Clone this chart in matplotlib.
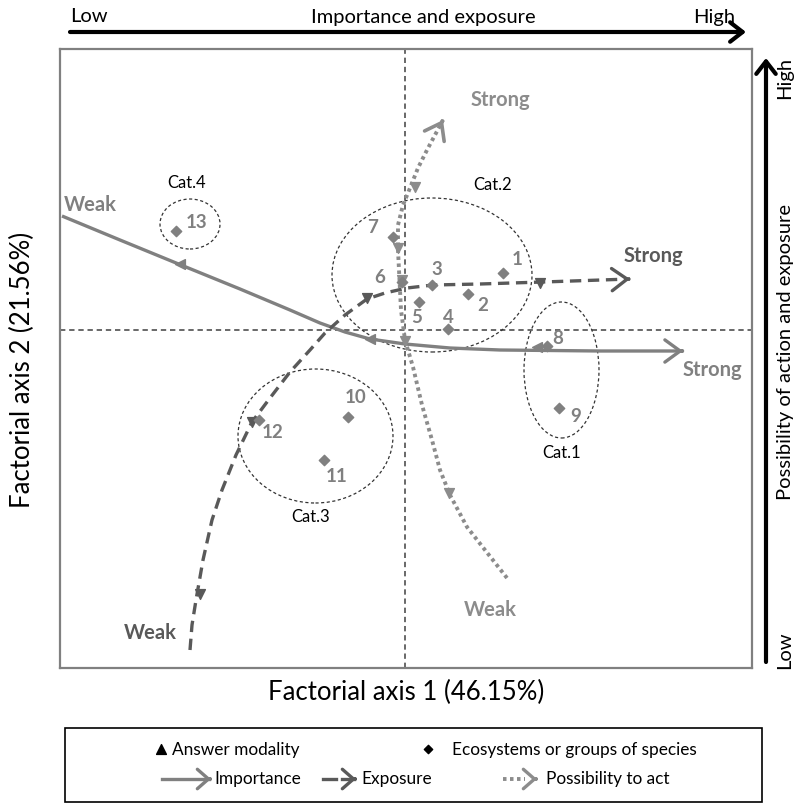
import matplotlib
matplotlib.use('Agg')
import matplotlib.pyplot as plt
from matplotlib.patches import Ellipse, Rectangle
import numpy as np

plt.rcParams['font.family'] = ['Lato', 'DejaVu Sans']

# ---------------- data (factorial plane coordinates) ----------------
point_ids = ['1', '2', '3', '4', '5', '6', '7', '8', '9', '10', '11', '12', '13']
point_x = [0.98, 0.63, 0.27, 0.43, 0.14, -0.03, -0.12, 1.42, 1.54, -0.57, -0.81, -1.46, -2.29]
point_y = [0.57, 0.36, 0.45, 0.01, 0.28, 0.48, 0.93, -0.16, -0.78, -0.87, -1.30, -0.90, 0.99]

importance_x = [-3.43, -2.85, -2.24, -1.65, -1.15, -0.85, -0.60, -0.35, 0.00, 0.45, 0.95, 1.95, 2.78]
importance_y = [1.14, 0.90, 0.65, 0.41, 0.20, 0.07, -0.02, -0.09, -0.14, -0.18, -0.20, -0.21, -0.21]

exposure_x = [-2.15, -2.13, -2.09, -2.02, -1.93, -1.83, -1.69, -1.53, -1.35, -1.15, -0.95, -0.80,
              -0.60, -0.38, -0.20, 0.02, 0.28, 0.75, 1.38, 2.25]
exposure_y = [-3.20, -2.95, -2.70, -2.30, -1.90, -1.60, -1.25, -0.92, -0.68, -0.42, -0.20, -0.03,
              0.15, 0.31, 0.37, 0.42, 0.45, 0.46, 0.48, 0.51]

possibility_x = [1.02, 0.80, 0.62, 0.45, 0.35, 0.27, 0.17, 0.08, 0.00, -0.04, -0.05, -0.07, -0.07,
                 -0.02, 0.05, 0.13, 0.22, 0.30, 0.38]
possibility_y = [-2.48, -2.20, -1.97, -1.65, -1.40, -1.10, -0.75, -0.37, -0.10, 0.20, 0.40, 0.80, 1.05,
                 1.25, 1.42, 1.62, 1.80, 1.95, 2.10]

# answer modalities (triangles) along each variable
imp_mod_x = [-2.25, -0.35, 1.32]
imp_mod_y = [0.66, -0.09, -0.17]
exp_mod_x = [-2.05, -1.53, -0.38, 1.35]
exp_mod_y = [-2.64, -0.92, 0.32, 0.47]
pos_mod_x = [0.10, -0.07, -0.03, 0.00, 0.44]
pos_mod_y = [1.43, 0.82, 0.50, -0.11, -1.63]

# categories (ellipses)
cat_names = ['Cat.1', 'Cat.2', 'Cat.3', 'Cat.4']
cat_cx = [1.565, 0.27, -0.895, -2.15]
cat_cy = [-0.40, 0.55, -1.06, 1.06]
cat_w = [0.75, 2.00, 1.55, 0.60]
cat_h = [1.36, 1.54, 1.34, 0.50]
cat_label_x = [1.57, 0.88, -0.94, -2.18]
cat_label_y = [-1.23, 1.45, -1.87, 1.47]

axis1_label = 'Factorial axis 1 (46.15%)'
axis2_label = 'Factorial axis 2 (21.56%)'

# ---------------- layout / style ----------------
W, H = 795, 805
fig = plt.figure(figsize=(W / 100, H / 100), dpi=100)

def fr(x0, y0, x1, y1):
    return [x0 / W, 1 - y1 / H, (x1 - x0) / W, (y1 - y0) / H]

ax = fig.add_axes(fr(60, 49, 752, 668))
ax.set_xlim(-3.45, 3.47)
ax.set_ylim(-3.38, 2.81)
ax.set_xticks([])
ax.set_yticks([])
for s in ax.spines.values():
    s.set_color('#808080')
    s.set_linewidth(1.6)

C_IMP = '#808080'
C_EXP = '#595959'
C_POS = '#8c8c8c'
C_PT = '#808080'

ax.axvline(0, color='#404040', lw=1.1, ls=(0, (3.5, 2.5)), zorder=1)
ax.axhline(0, color='#404040', lw=1.1, ls=(0, (3.5, 2.5)), zorder=1)

# ellipses
for cx, cy, w, h, name, lx, ly in zip(cat_cx, cat_cy, cat_w, cat_h, cat_names, cat_label_x, cat_label_y):
    ax.add_patch(Ellipse((cx, cy), w, h, fill=False, ec='#333333', lw=0.9, ls=(0, (2.5, 2)), zorder=2))
    ax.text(lx, ly, name, ha='center', va='center', fontsize=12, color='black')

def curve(xs, ys, color, lw, ls, head_lw):
    ax.plot(xs, ys, color=color, lw=lw, ls=ls, solid_capstyle='butt', dash_capstyle='butt',
            solid_joinstyle='round', zorder=3)
    x1, y1 = xs[-1], ys[-1]
    dx, dy = xs[-1] - xs[-2], ys[-1] - ys[-2]
    n = np.hypot(dx, dy)
    ax.annotate('', xy=(x1, y1), xytext=(x1 - 0.01 * dx / n, y1 - 0.01 * dy / n),
                arrowprops=dict(arrowstyle='->,head_length=0.55,head_width=0.4', color=color,
                                lw=head_lw, shrinkA=0, shrinkB=0, mutation_scale=20), zorder=4)

curve(importance_x, importance_y, C_IMP, 2.4, '-', 2.4)
curve(exposure_x, exposure_y, C_EXP, 2.4, (0, (3.4, 2.0)), 2.4)
curve(possibility_x, possibility_y, C_POS, 2.8, (0, (0.9, 0.9)), 2.6)

# answer modality triangles
ax.scatter(imp_mod_x, imp_mod_y, marker='<', s=50, color=C_IMP, zorder=5)
ax.scatter(exp_mod_x, exp_mod_y, marker='v', s=50, color=C_EXP, zorder=5)
ax.scatter(pos_mod_x, pos_mod_y, marker='v', s=50, color=C_POS, zorder=5)

# ecosystems (diamonds)
ax.scatter(point_x, point_y, marker='D', s=28, color=C_PT, zorder=6)
label_off = [(14, -14), (15, 11), (5, -16), (0, -12), (-2, 15), (-22, -5), (-20, -10),
             (11, -8), (17, 8), (8, -20), (13, 16), (14, 12), (21, -9)]
for x, y, t, (ox, oy) in zip(point_x, point_y, point_ids, label_off):
    ax.annotate(t, (x, y), xytext=(ox, -oy), textcoords='offset pixels', ha='center', va='center',
                fontsize=13.5, fontweight='bold', color=C_PT, zorder=7)

# Strong / Weak labels
end_labels = [
    ('Weak', importance_x[0] + 0.02, importance_y[0] + 0.11, C_IMP, 'left'),
    ('Strong', importance_x[-1] + 0.29, importance_y[-1] - 0.19, C_IMP, 'center'),
    ('Weak', exposure_x[0] - 0.40, exposure_y[0] + 0.17, C_EXP, 'center'),
    ('Strong', exposure_x[-1] + 0.23, exposure_y[-1] + 0.23, C_EXP, 'center'),
    ('Weak', possibility_x[0] - 0.17, possibility_y[0] - 0.32, C_POS, 'center'),
    ('Strong', possibility_x[-1] + 0.57, possibility_y[-1] + 0.20, C_POS, 'center'),
]
for t, x, y, c, ha in end_labels:
    ax.text(x, y, t, ha=ha, va='center', fontsize=14.5, fontweight='bold', color=c, zorder=7)

# ---------------- decorations outside the plot ----------------
deco = fig.add_axes([0, 0, 1, 1], zorder=10)
deco.set_xlim(0, W)
deco.set_ylim(H, 0)
deco.axis('off')
deco.patch.set_alpha(0)

arrow_kw = dict(arrowstyle='->,head_length=0.45,head_width=0.35', color='black', lw=3,
                shrinkA=0, shrinkB=0, mutation_scale=20)
deco.annotate('', xy=(746, 32), xytext=(70, 32), arrowprops=arrow_kw)
deco.annotate('', xy=(766, 58), xytext=(766, 662), arrowprops=arrow_kw)

deco.text(70, 17, 'Low', ha='left', va='center', fontsize=14.5)
deco.text(423, 17, 'Importance and exposure', ha='center', va='center', fontsize=14.5)
deco.text(735, 17, 'High', ha='right', va='center', fontsize=14.5)
deco.text(785, 78, 'High', ha='center', va='center', fontsize=14.5, rotation=90)
deco.text(785, 352, 'Possibility of action and exposure', ha='center', va='center', fontsize=14.5, rotation=90)
deco.text(785, 650, 'Low', ha='center', va='center', fontsize=14.5, rotation=90)

deco.text(406, 692, axis1_label, ha='center', va='center', fontsize=18.5)
deco.text(22, 370, axis2_label, ha='center', va='center', fontsize=18.5, rotation=90)

# legend box
deco.add_patch(Rectangle((65, 728), 697, 74, fill=False, ec='black', lw=1.2))
r1, r2 = 750, 779
deco.scatter([161], [r1 - 1], marker='^', s=50, color='black')
deco.text(172, r1, 'Answer modality', ha='left', va='center', fontsize=12.4)
deco.scatter([428], [r1 - 1], marker='D', s=18, color='black')
deco.text(452, r1, 'Ecosystems or groups of species', ha='left', va='center', fontsize=12.4)

leg_head = dict(arrowstyle='->,head_length=0.4,head_width=0.35', lw=2.4, shrinkA=0, shrinkB=0,
                mutation_scale=20)
deco.plot([162, 209], [r2, r2], color=C_IMP, lw=2.4)
deco.annotate('', xy=(211, r2), xytext=(210, r2), arrowprops=dict(leg_head, color=C_IMP))
deco.text(214, r2, 'Importance', ha='left', va='center', fontsize=12.4)
deco.plot([323, 336], [r2, r2], color=C_EXP, lw=2.4)
deco.plot([342, 354], [r2, r2], color=C_EXP, lw=2.4)
deco.annotate('', xy=(356, r2), xytext=(355, r2), arrowprops=dict(leg_head, color=C_EXP))
deco.text(361, r2, 'Exposure', ha='left', va='center', fontsize=12.4)
deco.plot([503, 525], [r2, r2], color=C_POS, lw=2.8, ls=(0, (0.9, 0.9)))
deco.annotate('', xy=(537, r2), xytext=(536, r2), arrowprops=dict(leg_head, color=C_POS))
deco.text(546, r2, 'Possibility to act', ha='left', va='center', fontsize=12.4)

fig.savefig('out.png', dpi=100)
